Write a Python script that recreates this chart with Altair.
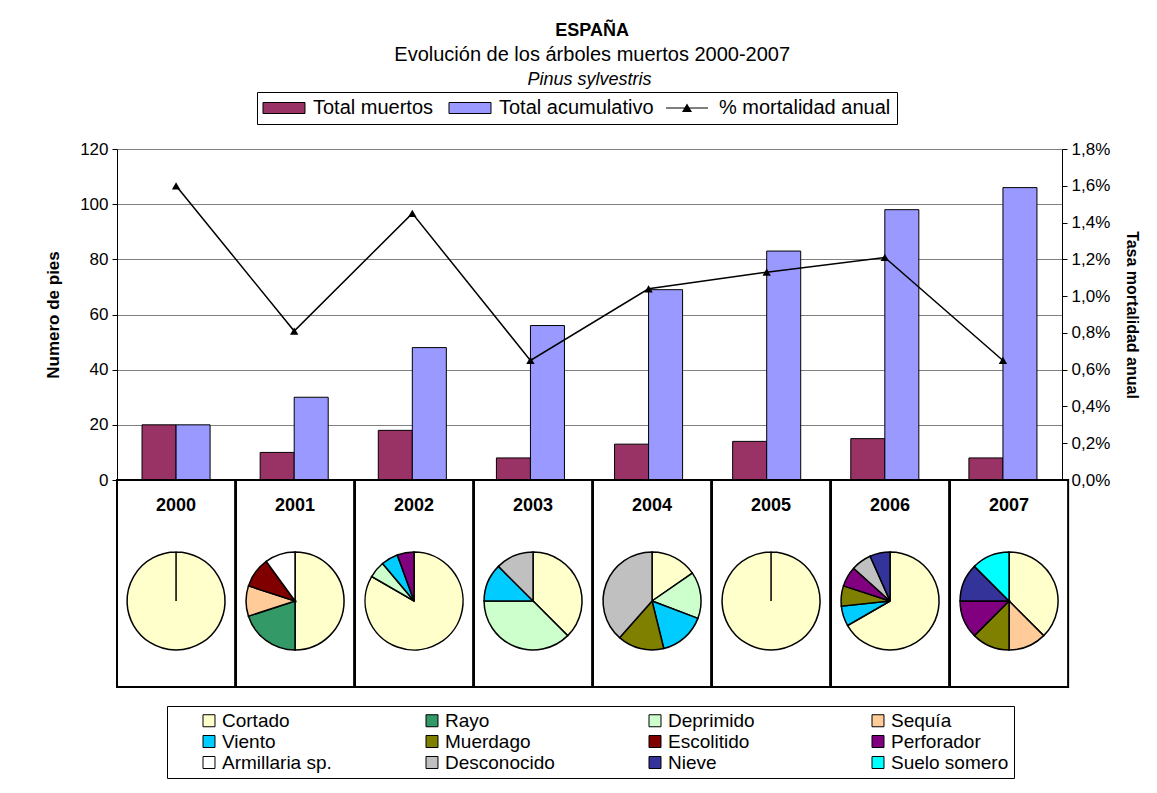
import altair as alt
import pandas as pd

FONT = "Liberation Sans"

# ---------------- data ----------------
years = ["2000", "2001", "2002", "2003", "2004", "2005", "2006", "2007"]
total_muertos = [20, 10, 18, 8, 13, 14, 15, 8]
total_acumulativo = [20, 30, 48, 56, 69, 83, 98, 106]
mortalidad_anual = [0.0160, 0.0081, 0.0145, 0.0065, 0.0104, 0.0113, 0.0121, 0.0065]

series_names = ["Total muertos", "Total acumulativo", "% mortalidad anual"]
series_colors = ["#993366", "#9999FF", "#FFFFFF"]

causes = ["Cortado", "Rayo", "Deprimido", "Sequía", "Viento", "Muerdago",
          "Escolitido", "Perforador", "Armillaria sp.", "Desconocido", "Nieve", "Suelo somero"]
cause_colors = ["#FFFFCC", "#339966", "#CCFFCC", "#FFCC99", "#00CCFF", "#808000",
                "#800000", "#800080", "#FFFFFF", "#C0C0C0", "#333399", "#00FFFF"]

cortado = [20, 5, 15, 3, 2, 14, 10, 3]
rayo = [0, 2, 0, 0, 0, 0, 0, 0]
deprimido = [0, 0, 1, 3, 2, 0, 0, 0]
sequia = [0, 1, 0, 0, 0, 0, 0, 1]
viento = [0, 0, 1, 1, 2, 0, 1, 0]
muerdago = [0, 0, 0, 0, 2, 0, 1, 1]
escolitido = [0, 1, 0, 0, 0, 0, 0, 0]
perforador = [0, 0, 1, 0, 0, 0, 1, 1]
armillaria = [0, 1, 0, 0, 0, 0, 0, 0]
desconocido = [0, 0, 0, 1, 5, 0, 1, 0]
nieve = [0, 0, 0, 0, 0, 0, 1, 1]
suelo_somero = [0, 0, 0, 0, 0, 0, 0, 1]
cause_counts = [cortado, rayo, deprimido, sequia, viento, muerdago,
                escolitido, perforador, armillaria, desconocido, nieve, suelo_somero]

left_ticks = [0, 20, 40, 60, 80, 100, 120]
right_ticks = [0.0, 0.002, 0.004, 0.006, 0.008, 0.010, 0.012, 0.014, 0.016, 0.018]

# ---------------- tables ----------------
df_bars = pd.DataFrame(
    [{"year": y, "series": series_names[0], "value": v} for y, v in zip(years, total_muertos)]
    + [{"year": y, "series": series_names[1], "value": v} for y, v in zip(years, total_acumulativo)]
)
df_line = pd.DataFrame({"year": years, "pct": mortalidad_anual, "series": series_names[2]})

pie_rows = []
for ci, (cause, vals) in enumerate(zip(causes, cause_counts)):
    for y, n in zip(years, vals):
        if n > 0:
            pie_rows.append({"year": y, "cause": cause, "n": n, "order": ci})
df_pie = pd.DataFrame(pie_rows)

# ---------------- layout constants ----------------
PLOT_W = 945
PLOT_H = 331
CELL_W = PLOT_W / 8
CELL_H = 207

# legend symbol paths (unit space, scaled by sqrt(size)/2)
BAR_SYM = "M-1.053,-0.579H3.368V0.579H-1.053Z"
LINE_SYM = ("M-1.053,-0.04H3.368V0.04H-1.053Z"
            "M1.158,-0.474L1.684,0.421H0.632Z")
SQ_SYM = "M2.389,-0.667H3.722V0.667H2.389Z"

LEG_X, LEG_Y, LEG_PAD = 140, -57, 6
THIRD_ENTRY_X = 403  # offset of the third entry inside the legend content

top_legend = alt.Legend(
    title=None, orient="none", legendX=LEG_X, legendY=LEG_Y, direction="horizontal",
    padding=LEG_PAD, strokeColor="black", fillColor="white", zindex=1,
    labelFont=FONT, labelFontSize=20, labelColor="black", labelLimit=400,
    symbolType=BAR_SYM, symbolSize=361, symbolStrokeColor="black", symbolStrokeWidth=1,
    labelOffset=30, columnPadding=12,
)
# line + marker symbol drawn over the third entry of the legend above
line_legend = alt.Legend(
    title=None, orient="none", legendX=LEG_X + LEG_PAD + THIRD_ENTRY_X - 2,
    legendY=LEG_Y + LEG_PAD - 2, direction="horizontal",
    padding=2, fillColor="white", zindex=2,
    labelExpr="''", labelFontSize=1,
    symbolSize=361, symbolFillColor="black", symbolStrokeColor="black", symbolStrokeWidth=1,
    labelOffset=0,
)

x_enc = alt.X("year:N", sort=years, axis=None,
              scale=alt.Scale(paddingInner=0.424, paddingOuter=0.212))

left_axis = alt.Axis(
    orient="left", values=left_ticks, title="Numero de pies",
    titleFont=FONT, titleFontSize=17, titleFontWeight="bold", titleColor="black",
    labelFont=FONT, labelFontSize=17, labelColor="black", labelPadding=4,
    tickSize=5, tickColor="black", domainColor="black", tickCount=20,
    grid=True, gridColor="#808080", titlePadding=17, labelOverlap=False,
)
right_axis = alt.Axis(
    orient="right", values=right_ticks, title="Tasa mortalidad anual",
    labelExpr="replace(format(datum.value, '.1%'), '.', ',')",
    titleFont=FONT, titleFontSize=16, titleFontWeight="bold", titleColor="black",
    labelFont=FONT, labelFontSize=17, labelColor="black", labelPadding=4,
    tickSize=5, tickColor="black", domainColor="black", grid=False, titlePadding=14,
    labelOverlap=False, tickCount=20,
)

bars = alt.Chart(df_bars).mark_bar(stroke="black", strokeWidth=1, opacity=1).encode(
    x=x_enc,
    xOffset=alt.XOffset("series:N", scale=alt.Scale(domain=series_names[:2])),
    y=alt.Y("value:Q", scale=alt.Scale(domain=[0, 120], nice=False), axis=left_axis),
    color=alt.Color("series:N", scale=alt.Scale(domain=series_names, range=series_colors),
                    legend=top_legend),
)

y_pct = alt.Y("pct:Q", scale=alt.Scale(domain=[0, 0.018], nice=False), axis=right_axis)

line = alt.Chart(df_line).mark_line(color="black", strokeWidth=1.5).encode(
    x=alt.X("year:N", sort=years), y=y_pct
)
points = alt.Chart(df_line).mark_point(shape="triangle-up", filled=True, color="black",
                                       size=70, opacity=1).encode(
    x=alt.X("year:N", sort=years), y=alt.Y("pct:Q")
)
legend_pts = alt.Chart(df_line).transform_filter("false").mark_point(
    filled=True, color="black", stroke="black", strokeWidth=1, opacity=1
).encode(
    x=alt.X("year:N", sort=years), y=alt.Y("pct:Q"),
    shape=alt.Shape("series:N", scale=alt.Scale(domain=series_names[2:], range=[LINE_SYM]),
                    legend=line_legend),
)

top = alt.layer(bars, alt.layer(line, points, legend_pts)).resolve_scale(
    y="independent"
).properties(
    width=PLOT_W, height=PLOT_H,
    title=alt.TitleParams("Pinus sylvestris", font=FONT, fontSize=18, fontStyle="italic",
                          fontWeight="normal", color="black", offset=3, anchor="middle"),
    view=alt.ViewBackground(stroke="transparent"),
)

pie_legend = alt.Legend(
    title=None, orient="none", legendX=50, legendY=226, direction="horizontal",
    columns=4, gridAlign="all", padding=5, strokeColor="black", fillColor="white",
    labelFont=FONT, labelFontSize=19, labelColor="black",
    symbolType=SQ_SYM, symbolSize=324, symbolStrokeColor="black", symbolStrokeWidth=1,
    labelOffset=31, columnPadding=55, rowPadding=1,
)

arcs = alt.Chart().transform_stack(
    stack="n", groupby=["year"], sort=[alt.SortField("order")], as_=["t0", "t1"],
    offset="normalize",
).mark_arc(outerRadius=49, stroke="black", strokeWidth=1.5).encode(
    theta=alt.Theta("t0:Q", stack=None, scale=alt.Scale(domain=[0, 1], range=[0, 6.283])),
    theta2="t1:Q",
    x=alt.value(CELL_W / 2),
    y=alt.value(121),
    color=alt.Color("cause:N", scale=alt.Scale(domain=causes, range=cause_colors),
                    legend=pie_legend),
)
labels = alt.Chart().transform_aggregate(n="sum(n)", groupby=["year"]).mark_text(
    font=FONT, fontSize=18, fontWeight="bold", color="black", baseline="middle", align="center"
).encode(text="year:N", x=alt.value(CELL_W / 2), y=alt.value(26))

pies = alt.layer(arcs, labels, data=df_pie).properties(
    width=CELL_W, height=CELL_H,
    view=alt.ViewBackground(stroke="black", strokeWidth=2),
).facet(
    column=alt.Column("year:N", sort=years, title=None, header=alt.Header(labels=False)),
    spacing=0, bounds="flush",
)

chart = alt.vconcat(
    top, pies, spacing=0, bounds="flush",
    title=alt.TitleParams(
        "ESPAÑA", subtitle="Evolución de los árboles muertos 2000-2007",
        font=FONT, fontSize=18, fontWeight="bold", color="black",
        subtitleFont=FONT, subtitleFontSize=20, subtitleColor="black",
        subtitlePadding=5, offset=5, anchor="middle",
    ),
).resolve_scale(color="independent").properties(
    padding={"left": 36, "top": 14, "right": 5, "bottom": 5},
    background="white",
).configure(font=FONT)

chart.save("out.html", embed_options={"renderer": "svg", "actions": False})
